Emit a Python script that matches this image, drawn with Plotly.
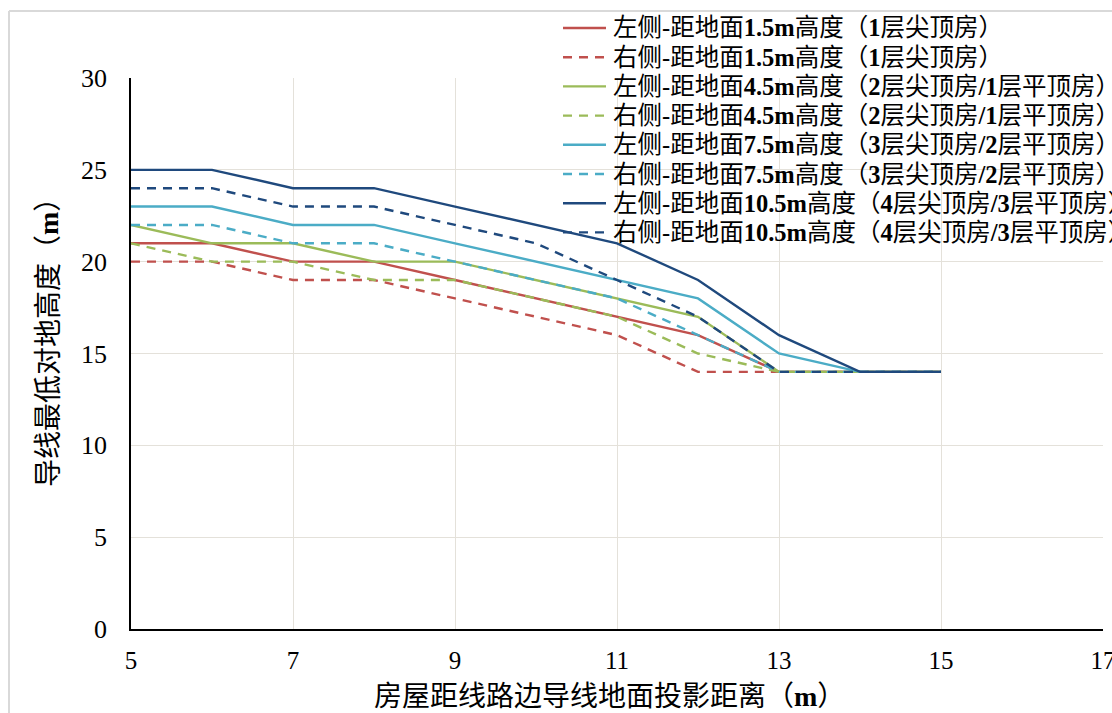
import plotly.graph_objects as go

# ---------------- data ----------------
distance = [5, 6, 7, 8, 9, 10, 11, 12, 13, 14, 15]

left_1_5 = [21, 21, 20, 20, 19, 18, 17, 16, 14, 14, 14]
right_1_5 = [20, 20, 19, 19, 18, 17, 16, 14, 14, 14, 14]
left_4_5 = [22, 21, 21, 20, 20, 19, 18, 17, 14, 14, 14]
right_4_5 = [21, 20, 20, 19, 19, 18, 17, 15, 14, 14, 14]
left_7_5 = [23, 23, 22, 22, 21, 20, 19, 18, 15, 14, 14]
right_7_5 = [22, 22, 21, 21, 20, 19, 18, 16, 14, 14, 14]
left_10_5 = [25, 25, 24, 24, 23, 22, 21, 19, 16, 14, 14]
right_10_5 = [24, 24, 23, 23, 22, 21, 19, 17, 14, 14, 14]

series_names = [
    "左侧-距地面<b>1.5m</b>高度（<b>1</b>层尖顶房）",
    "右侧-距地面<b>1.5m</b>高度（<b>1</b>层尖顶房）",
    "左侧-距地面<b>4.5m</b>高度（<b>2</b>层尖顶房<b>/1</b>层平顶房）",
    "右侧-距地面<b>4.5m</b>高度（<b>2</b>层尖顶房<b>/1</b>层平顶房）",
    "左侧-距地面<b>7.5m</b>高度（<b>3</b>层尖顶房<b>/2</b>层平顶房）",
    "右侧-距地面<b>7.5m</b>高度（<b>3</b>层尖顶房<b>/2</b>层平顶房）",
    "左侧-距地面<b>10.5m</b>高度（<b>4</b>层尖顶房<b>/3</b>层平顶房）",
    "右侧-距地面<b>10.5m</b>高度（<b>4</b>层尖顶房<b>/3</b>层平顶房）",
]
series_values = [left_1_5, right_1_5, left_4_5, right_4_5,
                 left_7_5, right_7_5, left_10_5, right_10_5]
series_colors = ["#C0504D", "#C0504D", "#9BBB59", "#9BBB59",
                 "#4BACC6", "#4BACC6", "#1F497D", "#1F497D"]
series_dash = ["solid", "9px,7px", "solid", "9px,7px",
               "solid", "9px,7px", "solid", "9px,7px"]

x_ticks = [5, 7, 9, 11, 13, 15, 17]
y_ticks = [0, 5, 10, 15, 20, 25, 30]
x_title = "房屋距线路边导线地面投影距离（<b>m</b>）"
y_title = "导线最低对地高度（<b>m</b>）"

# ---------------- layout helpers ----------------
W, H = 1112, 713
L, T, R, B = 131, 78, 1103, 629
PW, PH = R - L, B - T


def px_x(p):
    return (p - L) / PW


def px_y(p):
    return 1 - (p - T) / PH


SERIF = "Liberation Serif, Times New Roman, Noto Sans CJK SC, serif"

fig = go.Figure()
for name, vals, col, dash in zip(series_names, series_values, series_colors, series_dash):
    fig.add_trace(go.Scatter(
        x=distance, y=vals, mode="lines", name=name,
        line=dict(color=col, width=2.4, dash=dash),
        showlegend=False,
    ))

shapes = []
annotations = []

# manual legend
for i, (name, col, dash) in enumerate(zip(series_names, series_colors, series_dash)):
    yc = 28 + 29.2 * i
    shapes.append(dict(type="line", xref="paper", yref="paper",
                       x0=px_x(563), x1=px_x(606), y0=px_y(yc), y1=px_y(yc),
                       line=dict(color=col, width=2.4, dash=dash)))
    annotations.append(dict(xref="paper", yref="paper", x=px_x(611), y=px_y(yc),
                            xanchor="left", yanchor="middle", showarrow=False,
                            text=name, font=dict(family=SERIF, size=24.5, color="black")))

# outer border (light grey, left and top)
shapes.append(dict(type="line", xref="paper", yref="paper",
                   x0=px_x(9), x1=px_x(9), y0=px_y(11), y1=px_y(713),
                   line=dict(color="#D9D9D9", width=2)))
shapes.append(dict(type="line", xref="paper", yref="paper",
                   x0=px_x(9), x1=px_x(1112), y0=px_y(11), y1=px_y(11),
                   line=dict(color="#D9D9D9", width=2)))

# axis titles
annotations.append(dict(xref="paper", yref="paper", x=px_x(609), y=px_y(696),
                        xanchor="center", yanchor="middle", showarrow=False,
                        text=x_title, font=dict(family=SERIF, size=28, color="black")))
annotations.append(dict(xref="paper", yref="paper", x=px_x(48), y=px_y(336),
                        xanchor="center", yanchor="middle", showarrow=False, textangle=-90,
                        text=y_title, font=dict(family=SERIF, size=28, color="black")))

fig.update_layout(
    width=W, height=H, autosize=False,
    margin=dict(l=L, r=W - R, t=T, b=H - B, pad=0),
    paper_bgcolor="white", plot_bgcolor="white",
    showlegend=False,
    shapes=shapes, annotations=annotations,
    xaxis=dict(range=[5, 17], tickvals=x_ticks, ticktext=[str(v) for v in x_ticks],
               showgrid=True, gridcolor="#E4E1DA", gridwidth=1,
               showline=True, linecolor="black", linewidth=1.6,
               zeroline=False, ticks="", ticklabelstandoff=8,
               ticklabeloverflow="allow",
               tickfont=dict(family=SERIF, size=25, color="black"), automargin=False),
    yaxis=dict(range=[0, 30], tickvals=y_ticks, ticktext=[str(v) for v in y_ticks],
               showgrid=True, gridcolor="#E4E1DA", gridwidth=1,
               showline=True, linecolor="black", linewidth=1.6,
               zeroline=False, ticks="", ticklabelstandoff=17,
               ticklabeloverflow="allow",
               tickfont=dict(family=SERIF, size=26, color="black"), automargin=False),
)

fig.write_html("out.html",
               config={"displayModeBar": False},
               post_script="document.body.style.margin='0';document.body.style.overflow='hidden';")
